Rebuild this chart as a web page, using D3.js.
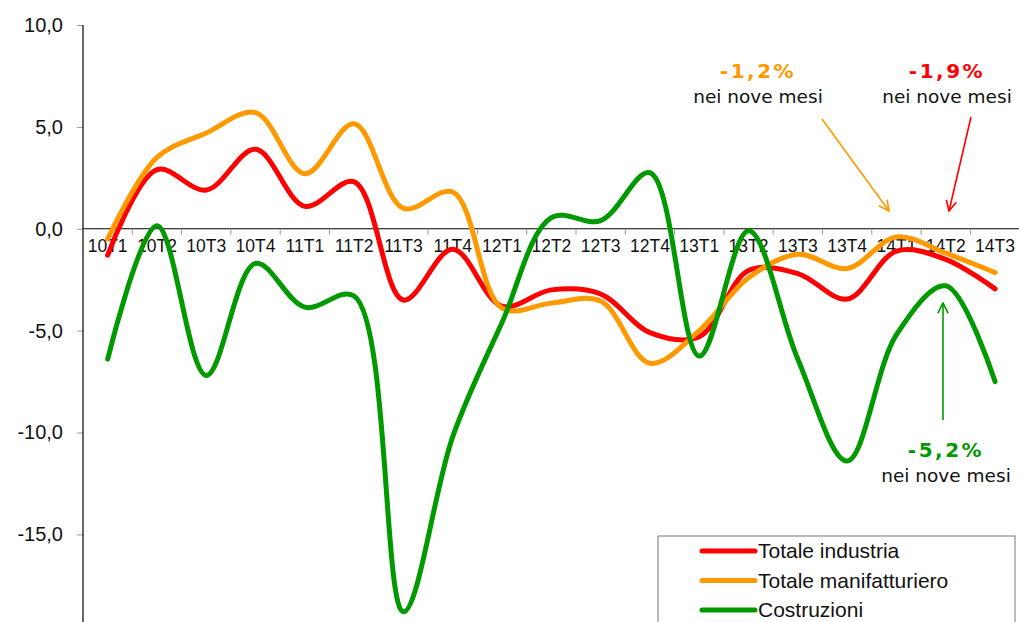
<!DOCTYPE html>
<html>
<head>
<meta charset="utf-8">
<script src="https://cdn.jsdelivr.net/npm/d3@7"></script>
<style>
  body { margin: 0; background: #fff; }
</style>
</head>
<body>
<div id="chart"></div>
<script>
// data
const categories = ["10T1","10T2","10T3","10T4","11T1","11T2","11T3","11T4","12T1","12T2",
                    "12T3","12T4","13T1","13T2","13T3","13T4","14T1","14T2","14T3"];
const industria = [-1.3, 2.9, 1.9, 3.9, 1.1, 2.3, -3.5, -1.0, -3.8, -3.0,
                   -3.2, -5.1, -5.3, -2.05, -2.2, -3.45, -1.1, -1.5, -2.95];
const manifatturiero = [-0.5, 3.5, 4.7, 5.7, 2.7, 5.15, 1.0, 1.8, -3.9, -3.65,
                        -3.55, -6.6, -5.0, -2.4, -1.25, -1.95, -0.4, -1.2, -2.15];
const costruzioni = [-6.4, 0.15, -7.2, -1.7, -3.85, -3.3, -18.8, -10.2, -4.6, 0.55,
                     0.4, 2.75, -6.25, -0.1, -6.4, -11.4, -5.2, -2.8, -7.5];
const yTicks = [10, 5, 0, -5, -10, -15];

const series = [
  {name: "Totale industria", values: industria, color: "#ff0000"},
  {name: "Totale manifatturiero", values: manifatturiero, color: "#ff9900"},
  {name: "Costruzioni", values: costruzioni, color: "#009900"}
];

// annotations with their arrows
const notes = [
  {pct: "-1,2%", color: "#ff9900", tx: 758, ty: 78, from: [822, 119], to: [889, 211]},
  {pct: "-1,9%", color: "#ff0000", tx: 947, ty: 78, from: [971, 117], to: [949, 211]},
  {pct: "-5,2%", color: "#009900", tx: 946, ty: 457, from: [943, 420], to: [943, 303]}
];

const W = 1019, H = 622;
const margin = {top: 25, right: 0, bottom: 0, left: 83};
const sans = "Liberation Sans, Arial, sans-serif";
const note = "DejaVu Sans, Verdana, sans-serif";

const svg = d3.select("#chart").append("svg")
    .attr("width", W).attr("height", H);

const x = d3.scaleBand()
    .domain(categories)
    .range([margin.left, margin.left + 49.3 * categories.length]);

const y = d3.scaleLinear()
    .domain([-19.3, 10])
    .range([H, margin.top]);

// y axis
const yAxis = svg.append("g")
    .attr("transform", `translate(${margin.left},0)`)
    .call(d3.axisLeft(y).tickValues(yTicks).tickSize(6).tickPadding(14)
      .tickFormat(d => d.toFixed(1).replace(".", ",")));
yAxis.select(".domain").remove();
yAxis.selectAll(".tick line").attr("stroke", "#999");
yAxis.selectAll(".tick text").attr("font-size", 20).attr("fill", "#111")
    .attr("font-family", sans);
svg.append("line")
    .attr("x1", margin.left).attr("x2", margin.left)
    .attr("y1", margin.top).attr("y2", H)
    .attr("stroke", "#000").attr("stroke-width", 1.2);

// x axis at zero
const xAxis = svg.append("g")
    .attr("transform", `translate(0,${y(0)})`)
    .call(d3.axisBottom(x).tickSize(0).tickPadding(11));
xAxis.select(".domain").remove();
xAxis.selectAll(".tick text").attr("font-size", 17.5).attr("fill", "#111")
    .attr("font-family", sans);
svg.append("line")
    .attr("x1", margin.left).attr("x2", W)
    .attr("y1", y(0)).attr("y2", y(0))
    .attr("stroke", "#000").attr("stroke-width", 1.2);
// tick marks between categories
svg.selectAll(".xtick")
    .data(categories.slice(1))
    .join("line")
    .attr("x1", d => x(d)).attr("x2", d => x(d))
    .attr("y1", y(0)).attr("y2", y(0) + 6)
    .attr("stroke", "#999");

// lines
const line = d3.line()
    .x((d, i) => x(categories[i]) + x.bandwidth() / 2)
    .y(d => y(d))
    .curve(d3.curveCatmullRom.alpha(0.5));

svg.selectAll(".series")
    .data(series)
    .join("path")
    .attr("fill", "none")
    .attr("stroke", d => d.color)
    .attr("stroke-width", 5)
    .attr("stroke-linecap", "round")
    .attr("stroke-linejoin", "round")
    .attr("d", d => line(d.values));

// annotations
const defs = svg.append("defs");
notes.forEach((n, i) => {
  defs.append("marker")
      .attr("id", "arr" + i)
      .attr("viewBox", "0 0 10 10")
      .attr("refX", 9).attr("refY", 5)
      .attr("markerWidth", 8).attr("markerHeight", 8)
      .attr("orient", "auto")
      .append("path")
      .attr("d", "M1,1 L9,5 L1,9")
      .attr("fill", "none")
      .attr("stroke", n.color)
      .attr("stroke-width", 1.3);
  svg.append("line")
      .attr("x1", n.from[0]).attr("y1", n.from[1])
      .attr("x2", n.to[0]).attr("y2", n.to[1])
      .attr("stroke", n.color).attr("stroke-width", 1.6)
      .attr("marker-end", `url(#arr${i})`);
  svg.append("text")
      .attr("x", n.tx).attr("y", n.ty)
      .attr("text-anchor", "middle")
      .attr("font-family", note)
      .attr("font-weight", "bold")
      .attr("font-size", 20)
      .attr("letter-spacing", 2.5)
      .attr("fill", n.color)
      .text(n.pct);
  svg.append("text")
      .attr("x", n.tx).attr("y", n.ty + 25)
      .attr("text-anchor", "middle")
      .attr("font-family", note)
      .attr("font-size", 18.5)
      .attr("fill", "#111")
      .text("nei nove mesi");
});

// legend
const lg = svg.append("g").attr("transform", "translate(658,536)");
lg.append("rect")
    .attr("width", 357).attr("height", 100)
    .attr("fill", "#fff").attr("stroke", "#777").attr("stroke-width", 1);
series.forEach((s, i) => {
  const yy = 15 + i * 29.5;
  lg.append("line")
      .attr("x1", 44).attr("x2", 97)
      .attr("y1", yy).attr("y2", yy)
      .attr("stroke", s.color).attr("stroke-width", 5)
      .attr("stroke-linecap", "round");
  lg.append("text")
      .attr("x", 100).attr("y", yy + 7)
      .attr("font-family", sans)
      .attr("font-size", 21).attr("fill", "#111")
      .text(s.name);
});
</script>
</body>
</html>
